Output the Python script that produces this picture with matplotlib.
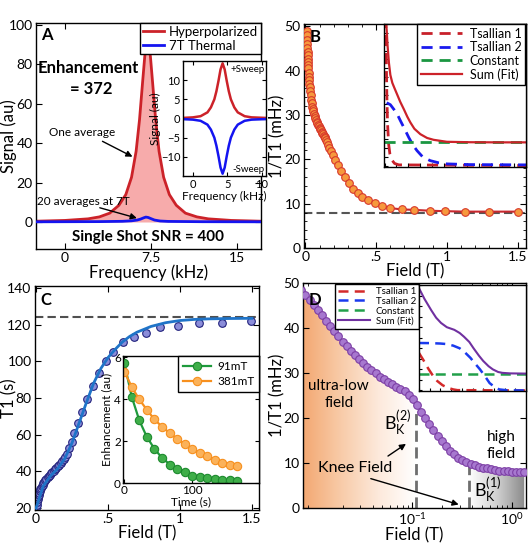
import numpy as np
import matplotlib
matplotlib.use('Agg')
import matplotlib.pyplot as plt
from matplotlib.ticker import MultipleLocator, FixedLocator, NullFormatter
from matplotlib.colors import LinearSegmentedColormap
from matplotlib.image import AxesImage

plt.rcParams['font.family'] = ['Lato', 'DejaVu Sans']
plt.rcParams['mathtext.default'] = 'regular'
plt.rcParams['xtick.direction'] = 'in'
plt.rcParams['ytick.direction'] = 'in'
plt.rcParams['xtick.top'] = True
plt.rcParams['ytick.right'] = True
plt.rcParams['axes.linewidth'] = 1.0
plt.rcParams['xtick.major.size'] = 4
plt.rcParams['ytick.major.size'] = 4
plt.rcParams['xtick.minor.size'] = 2
plt.rcParams['ytick.minor.size'] = 2
plt.rcParams['xtick.major.pad'] = 2.5
plt.rcParams['ytick.major.pad'] = 2.5

# ---------------- data ----------------
# Panel A: spectra (kHz, au)
freq_hyp = [-2.6, 0, 2, 3, 3.9, 4.7, 5.3, 5.8, 6.2, 6.5, 6.75, 6.95, 7.1, 7.2, 7.3,
            7.45, 7.65, 7.9, 8.2, 8.6, 9.1, 9.7, 10.5, 11.5, 12.5, 14.5, 17.1]
sig_hyp = [0.4, 0.8, 1.6, 2.6, 4.5, 8.5, 13.9, 22.7, 35.9, 52.1, 69.9, 83.8, 90.6, 92.0, 90.6,
           83.8, 69.9, 52.1, 35.9, 22.7, 13.9, 8.5, 4.5, 2.6, 1.6, 0.8, 0.4]
freq_th = [-2.6, 3, 5, 5.8, 6.3, 6.6, 6.85, 7.05, 7.25, 7.5, 7.8, 8.3, 9, 12, 17.1]
sig_th = [0.1, 0.2, 0.35, 0.6, 1.0, 1.5, 2.1, 2.5, 2.3, 1.7, 1.0, 0.5, 0.3, 0.15, 0.1]
# inset A
freq_sw = [-1.5, 0, 1.1, 2.1, 2.6, 3.1, 3.4, 3.7, 4.0, 4.3, 4.6, 4.9, 5.2, 5.5, 6.0, 6.5, 7.5, 8.5, 10.6]
sig_up = [0.15, 0.3, 0.6, 1.6, 2.9, 5.0, 7.1, 9.8, 12.8, 14.4, 12.8, 9.8, 7.1, 5.0, 2.9, 1.6, 0.6, 0.3, 0.15]
sig_down = [-0.15, -0.3, -0.6, -1.6, -2.9, -5.0, -7.1, -9.8, -12.8, -14.4, -12.8, -9.8, -7.1, -5.0, -2.9, -1.6, -0.6, -0.3, -0.15]

# Panel B: 1/T1 vs field (T, mHz)
field_B = [0.010, 0.011, 0.012, 0.013, 0.014, 0.015, 0.016, 0.017, 0.018, 0.019, 0.020, 0.022,
           0.024, 0.026, 0.028, 0.030, 0.033, 0.036, 0.040, 0.044, 0.048, 0.052, 0.056, 0.060,
           0.065, 0.070, 0.075, 0.080, 0.085, 0.090, 0.095, 0.100, 0.105, 0.110, 0.115, 0.120,
           0.125, 0.130, 0.135, 0.140, 0.145, 0.150, 0.160, 0.170, 0.180, 0.195, 0.210, 0.230,
           0.255, 0.28, 0.31, 0.34, 0.37, 0.40, 0.44, 0.49, 0.54, 0.60, 0.68, 0.77, 0.88, 0.99,
           1.13, 1.30, 1.50]
rate_B = [49.0, 48.0, 47.0, 46.0, 45.0, 44.2, 43.4, 42.6, 41.9, 41.2, 40.6, 39.5,
          38.6, 37.8, 37.0, 36.3, 35.3, 34.4, 33.4, 32.6, 31.9, 31.3, 30.8, 30.3,
          29.8, 29.3, 28.9, 28.5, 28.1, 27.7, 27.4, 27.1, 26.8, 26.5, 26.2, 25.9,
          25.6, 25.3, 25.0, 24.7, 24.3, 24.0, 23.3, 22.6, 21.9, 20.9, 19.9, 18.7,
          17.4, 16.1, 14.7, 13.4, 12.4, 11.6, 10.8, 10.1, 9.4, 9.0, 8.7, 8.6, 8.4, 8.3,
          8.2, 8.2, 8.2]
rate_B_floor = 8.0
# inset B (normalised units)
insB_sum_x = [0.0, 0.014, 0.02, 0.03, 0.04, 0.054, 0.07, 0.089, 0.11, 0.136, 0.16, 0.182,
              0.21, 0.252, 0.30, 0.346, 0.44, 0.6, 0.8, 1.0]
insB_sum_y = [1.1, 0.958, 0.85, 0.724, 0.64, 0.584, 0.545, 0.50, 0.45, 0.397, 0.345, 0.304,
              0.26, 0.222, 0.195, 0.182, 0.168, 0.165, 0.164, 0.164]
insB_t1_x = [0.008, 0.010, 0.012, 0.015, 0.02, 0.028, 0.037, 0.05, 0.07, 0.1, 1.0]
insB_t1_y = [1.05, 0.9, 0.7, 0.5, 0.3, 0.15, 0.08, 0.04, 0.015, 0.005, 0.0]
insB_t2_x = [0.014, 0.04, 0.065, 0.09, 0.112, 0.14, 0.17, 0.2, 0.229, 0.27, 0.322, 0.38, 0.44, 0.6, 1.0]
insB_t2_y = [0.444, 0.43, 0.397, 0.36, 0.315, 0.26, 0.199, 0.145, 0.105, 0.06, 0.035, 0.02, 0.012, 0.007, 0.005]
insB_const = 0.164

# Panel C: T1 vs field
field_C = [0.003, 0.006, 0.009, 0.012, 0.015, 0.018, 0.022, 0.026, 0.030, 0.035, 0.040, 0.046,
           0.052, 0.058, 0.065, 0.072, 0.080, 0.088, 0.096, 0.105, 0.114, 0.123, 0.132, 0.142,
           0.152, 0.162, 0.172, 0.182, 0.192, 0.202, 0.213, 0.231, 0.248, 0.266, 0.294, 0.322,
           0.356, 0.394, 0.4375, 0.486, 0.537, 0.602, 0.68, 0.762, 0.861, 0.984, 1.132, 1.294, 1.49]
t1_C = [20.3, 21.8, 23.3, 24.8, 26.1, 27.2, 28.3, 29.3, 30.2, 31.1, 32.0, 32.8,
        33.6, 34.4, 35.2, 36.0, 36.8, 37.6, 38.3, 39.0, 39.7, 40.4, 41.1, 41.9,
        42.7, 43.6, 44.6, 45.7, 46.8, 48.0, 49.5, 52.5, 56.2, 61.1, 66.2, 72.5,
        79.3, 86.5, 93.5, 100.2, 105.3, 110.4, 113.3, 115.3, 118.4, 119.3, 120.9, 120.9, 121.8]
t1_err = 1.5
fit_field_C = [0.0, 0.05, 0.1, 0.15, 0.2, 0.25, 0.3, 0.35, 0.4, 0.45, 0.5, 0.55, 0.6, 0.65, 0.7,
               0.8, 0.9, 1.0, 1.1, 1.2, 1.35, 1.5]
fit_t1_C = [20, 32, 37.5, 41.5, 47, 55.5, 66.5, 77.5, 88, 96, 102, 106.5, 110.5, 113.5, 115.8,
            119, 121, 122.2, 122.8, 123.1, 123.3, 123.4]
t1_C_max = 124
# inset C: enhancement decay
time_s = [0, 11, 22, 33, 44, 55, 67, 78, 89, 100, 111, 122, 133, 144, 155, 166]
enh_91 = [5.71, 4.09, 2.98, 2.2, 1.64, 1.21, 0.88, 0.67, 0.51, 0.35, 0.27, 0.22, 0.17, 0.14, 0.13, 0.10]
enh_381 = [5.31, 4.57, 3.98, 3.49, 3.04, 2.69, 2.37, 2.09, 1.85, 1.61, 1.43, 1.27, 1.11, 0.97, 0.87, 0.79]

# Panel D: 1/T1 vs field (log)
field_D = [0.0077, 0.00847, 0.00932, 0.01025, 0.01127, 0.0124, 0.01364, 0.0150, 0.0165, 0.01816,
           0.01997, 0.02197, 0.02417, 0.02658, 0.02924, 0.03217, 0.03538, 0.03892, 0.04281, 0.0471,
           0.0518, 0.0570, 0.0627, 0.0690, 0.0759, 0.0835, 0.0918, 0.1010, 0.1111, 0.1222,
           0.1344, 0.1479, 0.1627, 0.1789, 0.1968, 0.2165, 0.2382, 0.2620, 0.2882, 0.3170,
           0.3487, 0.3836, 0.4219, 0.4641, 0.5105, 0.5616, 0.6178, 0.6795, 0.7475, 0.8222,
           0.9045, 0.9949, 1.0944, 1.2039, 1.3243]
rate_D = [48.5, 47.4, 46.3, 45.1, 44.0, 42.9, 41.6, 40.4, 39.3, 38.2,
          37.0, 35.9, 35.0, 34.1, 33.2, 32.2, 31.4, 30.7, 30.0, 29.2,
          28.6, 28.0, 27.5, 27.0, 26.4, 25.9, 25.2, 24.3, 22.9, 21.4,
          20.0, 18.6, 17.3, 16.1, 14.9, 13.8, 12.7, 11.9, 11.2, 10.7,
          10.2, 9.8, 9.5, 9.2, 9.0, 8.8, 8.6, 8.45, 8.3, 8.2,
          8.15, 8.1, 8.1, 8.1, 8.1]
knee2 = 0.108
knee2_top = 23.8
knee1 = 0.374
knee1_top = 9.7
# inset D (normalised)
insD_sum_x = [0.0, 0.05, 0.115, 0.16, 0.206, 0.26, 0.33, 0.38, 0.42, 0.47, 0.51, 0.56, 0.6, 0.65, 0.69, 0.74, 0.78, 0.85, 1.0]
insD_sum_y = [0.97, 0.87, 0.76, 0.69, 0.64, 0.60, 0.575, 0.545, 0.51, 0.46, 0.40, 0.33, 0.28, 0.23, 0.20, 0.175, 0.167, 0.162, 0.16]
insD_t1_x = [0.0, 0.04, 0.085, 0.13, 0.17, 0.22, 0.27, 0.32, 0.36, 1.0]
insD_t1_y = [0.355, 0.29, 0.21, 0.14, 0.09, 0.05, 0.025, 0.01, 0.003, 0.0]
insD_t2_x = [0.0, 0.1, 0.2, 0.26, 0.32, 0.38, 0.43, 0.48, 0.52, 0.57, 0.62, 0.66, 0.71, 0.75, 0.82, 1.0]
insD_t2_y = [0.45, 0.449, 0.445, 0.44, 0.425, 0.40, 0.36, 0.31, 0.26, 0.20, 0.13, 0.07, 0.03, 0.01, 0.002, 0.0]
insD_const = 0.16

# ---------------- figure ----------------
W, H = 530, 546
fig = plt.figure(figsize=(W / 100, H / 100), dpi=100)


def add_ax(l, t, r, b):
    return fig.add_axes([l / W, 1 - b / H, (r - l) / W, (b - t) / H])


def ylabel_at(ax, text, px_right, left, width, size):
    ax.set_ylabel(text, fontsize=size)
    ax.yaxis.set_label_coords((px_right - left) / width, 0.5)


TICK = 10
LAB = 12

# ---- Panel A ----
axA = add_ax(36, 23, 261, 249)
axA.fill_between(freq_hyp, sig_hyp, 0, color='#f7abab', lw=0, zorder=1)
axA.plot(freq_hyp, sig_hyp, color='#cc2229', lw=2, label='Hyperpolarized', zorder=2)
axA.plot(freq_th, sig_th, color='#1414f0', lw=2, label='7T Thermal', zorder=3)
axA.set_xlim(-2.53, 17.09)
axA.set_ylim(-13.7, 101)
axA.set_xticks([0, 7.5, 15])
axA.set_xticklabels(['0', '7.5', '15'])
axA.set_yticks([0, 20, 40, 60, 80, 100])
axA.tick_params(labelsize=TICK)
axA.set_xlabel('Frequency (kHz)', fontsize=LAB, labelpad=0)
ylabel_at(axA, 'Signal (au)', 17, 36, 225, LAB)
axA.legend(loc='upper right', bbox_to_anchor=(261 / W, 1 - 23 / H), bbox_transform=fig.transFigure,
           borderaxespad=0, fontsize=9.5, fancybox=False, framealpha=1, edgecolor='black',
           handlelength=1.6, borderpad=0.2, labelspacing=0.15, handletextpad=0.4).get_frame().set_linewidth(1)
axA.text(-2.1, 95, 'A', fontsize=12, fontweight='bold', va='center', ha='left')
axA.text(2.0, 78, 'Enhancement', fontsize=12, fontweight='bold', ha='center', va='center')
axA.text(2.3, 67.5, '= 372', fontsize=12, fontweight='bold', ha='center', va='center')
axA.text(1.5, 45.2, 'One average', fontsize=8.5, ha='center', va='center')
axA.annotate('', xy=(6.1, 32.5), xytext=(3.05, 41.6),
             arrowprops=dict(arrowstyle='-|>', color='k', lw=1, mutation_scale=9))
axA.text(1.6, 10.2, '20 averages at 7T', fontsize=8.5, ha='center', va='center')
axA.annotate('', xy=(6.5, 1.6), xytext=(2.8, 7.6),
             arrowprops=dict(arrowstyle='-|>', color='k', lw=1, mutation_scale=9))
axA.text(7.25, -7.6, 'Single Shot SNR = 400', fontsize=11, fontweight='bold', ha='center', va='center')

axAi = add_ax(183, 61, 266, 176)
axAi.plot(freq_sw, sig_up, color='#cc2229', lw=1.8)
axAi.plot(freq_sw, sig_down, color='#1414f0', lw=1.8)
axAi.set_xlim(-1.45, 10.6)
axAi.set_ylim(-15, 15)
axAi.set_xticks([0, 5, 10])
axAi.set_yticks([-10, -5, 0, 5, 10])
axAi.tick_params(labelsize=8, length=3, pad=2)
axAi.set_xlabel('Frequency (kHz)', fontsize=8.5, labelpad=1)
axAi.set_ylabel('Signal (au)', fontsize=8.5, labelpad=0)
axAi.text(10.4, 12.8, '+Sweep', fontsize=7, ha='right', va='center')
axAi.text(10.4, -13.2, '-Sweep', fontsize=7, ha='right', va='center')

# ---- Panel B ----
axB = add_ax(304, 24, 526, 248)
axB.axhline(rate_B_floor, color='#555555', ls='--', lw=1.5, dashes=(4, 2), zorder=1)
axB.plot(field_B, rate_B, '-o', color='#c8282e', mfc='#f6993d', mec='#d8382b', ms=5.5, mew=0.8, lw=1.5, zorder=3)
axB.set_xlim(-0.01, 1.56)
axB.set_ylim(0, 50.5)
axB.set_xticks([0, 0.5, 1, 1.5])
axB.set_xticklabels(['0', '.5', '1', '1.5'])
axB.set_yticks([0, 10, 20, 30, 40, 50])
axB.xaxis.set_minor_locator(MultipleLocator(0.1))
axB.yaxis.set_minor_locator(MultipleLocator(2))
axB.tick_params(labelsize=TICK)
axB.set_xlabel('Field (T)', fontsize=LAB, labelpad=0)
ylabel_at(axB, '1/T1 (mHz)', 285, 304, 222, LAB)
axB.text(0.03, 47.5, 'B', fontsize=12, fontweight='bold', va='center', ha='left')

axBi = add_ax(384, 24, 526, 167)
axBi.plot(insB_t1_x, insB_t1_y, color='#c8202a', lw=2, dashes=(4, 2.5), label='Tsallian 1')
axBi.plot(insB_t2_x, insB_t2_y, color='#1a1aee', lw=2, dashes=(4, 2.5), label='Tsallian 2')
axBi.axhline(insB_const, color='#1a9641', lw=2, dashes=(4, 2.5), label='Constant')
axBi.plot(insB_sum_x, insB_sum_y, color='#cc2229', lw=1.6, label='Sum (Fit)')
axBi.set_xlim(-0.005, 1.0)
axBi.set_ylim(-0.01, 1.0)
axBi.xaxis.set_major_locator(MultipleLocator(0.0833))
axBi.yaxis.set_major_locator(MultipleLocator(0.0625))
axBi.tick_params(labelleft=False, labelbottom=False, length=3, top=False, right=False)
legB = axBi.legend(loc='upper right', bbox_to_anchor=(525 / W, 1 - 24 / H), bbox_transform=fig.transFigure,
                   borderaxespad=0, fontsize=9, fancybox=False, framealpha=1, edgecolor='black',
                   handlelength=3.3, borderpad=0.3, labelspacing=0.12, handletextpad=0.6)
legB.get_frame().set_linewidth(1)

# ---- Panel C ----
axC = add_ax(35, 286, 259, 510)
axC.axhline(t1_C_max, color='#505050', ls='--', lw=1.5, dashes=(4, 2), zorder=1)
axC.errorbar(field_C, t1_C, yerr=t1_err, fmt='o', ms=5.5, mfc='#8b8dd9', mec='#25257f', mew=0.8,
             ecolor='#25257f', elinewidth=0.8, capsize=1.8, zorder=2)
axC.plot(fit_field_C, fit_t1_C, color='#1f74c8', lw=2, zorder=3)
axC.set_xlim(-0.007, 1.549)
axC.set_ylim(19, 141)
axC.set_xticks([0, 0.5, 1, 1.5])
axC.set_xticklabels(['0', '.5', '1', '1.5'])
axC.set_yticks([20, 40, 60, 80, 100, 120, 140])
axC.tick_params(labelsize=TICK)
axC.set_xlabel('Field (T)', fontsize=LAB, labelpad=0)
ylabel_at(axC, 'T1 (s)', 17, 35, 224, LAB)
axC.text(0.03, 133.5, 'C', fontsize=12, fontweight='bold', va='center', ha='left')

axCi = add_ax(123, 356, 259, 483)
axCi.plot(time_s, enh_91, '-o', color='#1e9a3c', mfc='#3fae49', mec='#1d8a2e', ms=6, mew=0.8, lw=1.6, label='91mT')
axCi.plot(time_s, enh_381, '-o', color='#f7901e', mfc='#fbb25a', mec='#f7901e', ms=6, mew=0.8, lw=1.6, label='381mT')
axCi.set_xlim(-2, 198)
axCi.set_ylim(0, 6.05)
axCi.set_xticks([0, 100])
axCi.set_yticks([0, 2, 4, 6])
axCi.tick_params(labelsize=8.5, length=3, pad=1.5)
axCi.set_xlabel('Time (s)', fontsize=8.5, labelpad=0)
axCi.set_ylabel('Enhancement (au)', fontsize=8.5, labelpad=1)
legC = axCi.legend(loc='upper right', borderaxespad=0, fontsize=8.5, fancybox=False, framealpha=1,
                   edgecolor='black', handlelength=2.4, borderpad=0.4, labelspacing=0.4, handletextpad=0.5)
legC.get_frame().set_linewidth(1)

# ---- Panel D ----
axD = add_ax(303, 283, 526, 508)
axD.set_xscale('log')
xlo, xhi = 0.008, 1.38
poly = axD.fill_between(field_D, rate_D, 0, color='none', lw=0)
clip = poly.get_paths()[0]
poly.remove()
lx = np.log10([xlo, xhi, knee2, knee1])
fr2 = (lx[2] - lx[0]) / (lx[1] - lx[0])
fr1 = (lx[3] - lx[0]) / (lx[1] - lx[0])
grad = np.linspace(0, 1, 256).reshape(1, -1)
cm_or = LinearSegmentedColormap.from_list('or', ['#f3a872', '#f8cba8', '#fde9db', '#ffffff'])
cm_gr = LinearSegmentedColormap.from_list('gr', ['#ffffff', '#cfcfcf', '#878787'])
for cm, ext in ((cm_or, [0, fr2, 0, 1]), (cm_gr, [fr1, 1, 0, 1])):
    im = AxesImage(axD, cmap=cm, extent=ext, interpolation='bilinear', origin='lower')
    im.set_data(grad)
    im.set_transform(axD.transAxes)
    im.set_zorder(0.5)
    axD.add_image(im)
    im.set_clip_path(clip, transform=axD.transData)
axD.plot([knee2, knee2], [0, knee2_top], color='#6e6e6e', lw=2, dashes=(4, 2), zorder=1.5)
axD.plot([knee1, knee1], [0, knee1_top], color='#6e6e6e', lw=2, dashes=(4, 2), zorder=1.5)
axD.plot(field_D, rate_D, '-o', color='#7030a0', mfc='#a778cf', mec='#7d3fa5', ms=5.5, mew=0.8, lw=1.5, zorder=3)
axD.set_xlim(xlo, xhi)
axD.set_ylim(0, 50)
axD.xaxis.set_major_locator(FixedLocator([0.1, 1]))
axD.set_yticks([0, 10, 20, 30, 40, 50])
axD.tick_params(labelsize=TICK)
axD.set_xlabel('Field (T)', fontsize=LAB, labelpad=0)
ylabel_at(axD, '1/T1 (mHz)', 285, 303, 223, LAB)
axD.text(0.0092, 46.3, 'D', fontsize=12, fontweight='bold', va='center', ha='left')
axD.text(0.0183, 27.2, 'ultra-low', fontsize=11, ha='center', va='center')
axD.text(0.0183, 23.4, 'field', fontsize=11, ha='center', va='center')
axD.text(0.78, 15.8, 'high', fontsize=11, ha='center', va='center')
axD.text(0.78, 12.1, 'field', fontsize=11, ha='center', va='center')
axD.text(0.0265, 8.9, 'Knee Field', fontsize=11.5, ha='center', va='center')
axD.text(0.052, 19.0, r'B$_K^{(2)}$', fontsize=13, ha='left', va='center')
axD.text(0.415, 4.0, r'B$_K^{(1)}$', fontsize=13, ha='left', va='center')
axD.annotate('', xy=(0.091, 14.6), xytext=(0.054, 11.2),
             arrowprops=dict(arrowstyle='-|>', color='k', lw=1, mutation_scale=9))
axD.annotate('', xy=(0.31, 0.6), xytext=(0.036, 6.7),
             arrowprops=dict(arrowstyle='-|>', color='k', lw=1, mutation_scale=9))

axDi = add_ax(419, 285, 526, 391)
axDi.plot(insD_t1_x, insD_t1_y, color='#d42a2a', lw=1.8, dashes=(4, 2.5), label='Tsallian 1')
axDi.plot(insD_t2_x, insD_t2_y, color='#1a3aee', lw=1.8, dashes=(4, 2.5), label='Tsallian 2')
axDi.axhline(insD_const, color='#22a04a', lw=1.8, dashes=(4, 2.5), label='Constant')
axDi.plot(insD_sum_x, insD_sum_y, color='#7030a0', lw=1.5, label='Sum (Fit)')
axDi.set_xlim(0, 1)
axDi.set_ylim(-0.005, 1.0)
axDi.xaxis.set_major_locator(MultipleLocator(0.1))
axDi.yaxis.set_major_locator(MultipleLocator(0.1))
axDi.tick_params(labelleft=False, labelbottom=False, length=2.5, top=False, right=False)
h, l = axDi.get_legend_handles_labels()
legD = axD.legend(h, l, loc='upper left', bbox_to_anchor=(335 / W, 1 - 284 / H), bbox_transform=fig.transFigure,
                  borderaxespad=0, fontsize=7, fancybox=False, framealpha=1, edgecolor='black',
                  handlelength=3.3, borderpad=0.3, labelspacing=0.1, handletextpad=0.6)
legD.get_frame().set_linewidth(1)

fig.savefig('out.png', dpi=100)
